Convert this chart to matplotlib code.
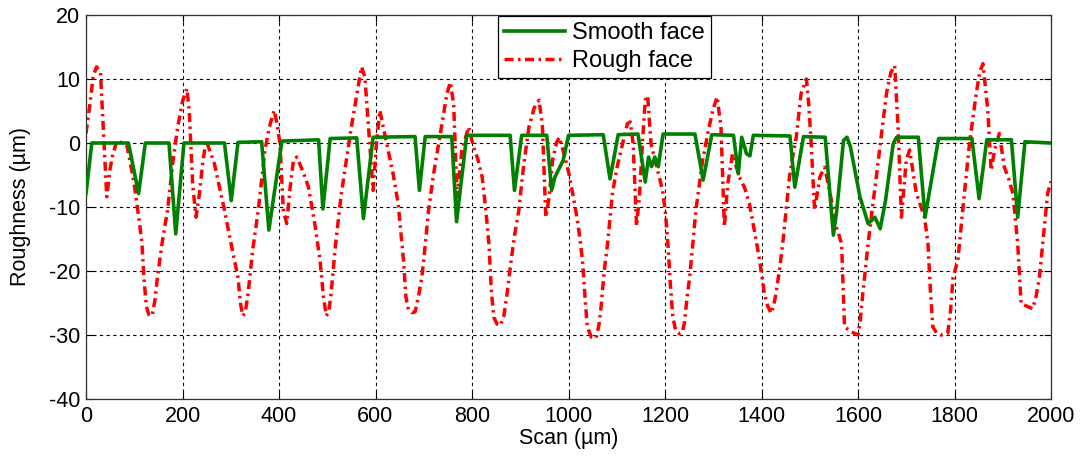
import matplotlib
matplotlib.use('Agg')
import matplotlib.pyplot as plt

plt.rcParams['font.family'] = ['Liberation Sans', 'DejaVu Sans']
plt.rcParams['axes.unicode_minus'] = False

# rough face profile: (scan um, roughness um)
rough_profile = [
    (0, 1.5), (8, 6), (15, 10.5), (22, 11.9), (30, 11), (36, 2), (43, -8.4), (50, -4), (55, -2),
    (64, 0.4), (85, -0.4), (99, -6), (110, -12), (116, -15.7), (120, -21), (125, -25.5),
    (130, -26.8), (137, -27), (143, -24.5), (148, -21), (158, -15.5), (169, -10.5), (180, -3),
    (190, 2.5), (200, 6.5), (209, 8.5), (214, 5), (221, -6.4), (228, -11.6), (235, -8), (242, -3),
    (249, 0.4), (266, -3.2), (287, -10.5), (300, -15.5), (315, -21), (320, -25), (325, -27),
    (330, -26.5), (336, -23.5), (345, -17), (357, -10.5), (371, -1.1), (380, 2.5), (390, 5.1),
    (396, 3), (402, -0.1), (409, -10.5), (416, -12.6), (423, -7), (430, -2.7), (437, -2.2),
    (450, -4.5), (461, -6.9), (475, -13), (485, -18.3), (492, -24), (498, -27), (503, -26.5),
    (508, -23.5), (517, -16), (529, -8), (540, -2.5), (550, 2.5), (560, 7), (571, 11.9),
    (578, 10.3), (588, -0.1), (595, -7.4), (602, 0), (609, 5.1), (616, 2.5), (626, -1.1),
    (637, -5), (647, -9.5), (658, -18.3), (663, -24), (668, -26), (675, -26.5), (682, -26.4),
    (689, -24), (696, -21), (703, -16), (710, -10.5), (720, -5), (731, -0.1), (740, 4), (748, 7.7),
    (755, 9.5), (762, 6.1), (769, -8.4), (779, -1.1), (793, 2.5), (803, -0.6), (812, -2.5),
    (821, -5.3), (828, -10), (835, -15.7), (840, -23), (845, -27.2), (852, -28.3), (859, -28.5),
    (866, -27), (872, -24), (880, -19), (888, -14.5), (897, -10.5), (907, -3.5), (918, 2.5),
    (929, 5.5), (939, 6.7), (946, 2.5), (953, -11.6), (960, -8.4), (967, -2.7), (975, 0),
    (981, 0.9), (990, -1.5), (1001, -4.8), (1015, -10.5), (1022, -14), (1029, -18.3), (1035, -25),
    (1039, -28.7), (1047, -30.3), (1057, -30.5), (1063, -28.5), (1067, -26), (1074, -20),
    (1081, -15.7), (1091, -7.9), (1100, -4), (1109, -1.1), (1122, 3), (1128, 3.3), (1134, -0.1),
    (1141, -13), (1147, -8.4), (1154, 0.9), (1159, 6.7), (1164, 7.4), (1171, -0.1), (1181, -3.2),
    (1195, -7.4), (1201, -11), (1206, -15.7), (1211, -22), (1216, -27), (1222, -29.3),
    (1230, -29.8), (1236, -29.5), (1240, -28.2), (1246, -24), (1251, -21), (1258, -15.5),
    (1264, -10.5), (1278, -2.7), (1290, 2), (1299, 5.1), (1308, 7.2), (1316, 2.5), (1323, -13.1),
    (1330, -6.4), (1340, -1.7), (1354, -5.3), (1365, -7), (1375, -9.5), (1386, -14), (1396, -18.3),
    (1406, -23.5), (1413, -25.5), (1420, -26.6), (1425, -25.5), (1430, -23.5), (1437, -20),
    (1444, -15.7), (1451, -10.5), (1458, -5.3), (1465, -2), (1472, 0.9), (1482, 7.7), (1493, 10),
    (1498, 6), (1503, -0.1), (1510, -10.5), (1521, -5.3), (1531, -3.8), (1541, -7.4),
    (1555, -13.1), (1566, -15.7), (1569, -22), (1572, -28.7), (1586, -29.5), (1600, -30),
    (1605, -27.5), (1610, -23.5), (1621, -15.7), (1630, -10), (1638, -5.3), (1648, 1), (1659, 7.7),
    (1668, 11), (1676, 12.1), (1683, 2.5), (1690, -11.6), (1700, -2.7), (1707, -1.1), (1721, -7.9),
    (1738, -11.6), (1745, -15.7), (1750, -23), (1755, -28.7), (1763, -29.7), (1772, -30),
    (1786, -29.7), (1792, -26), (1797, -21), (1807, -18.3), (1817, -10.5), (1831, -0.1),
    (1845, 7.7), (1852, 11), (1859, 12.4), (1869, 5.1), (1876, -4.3), (1883, -1.1), (1893, 1.5),
    (1903, -3.7), (1912, -5.5), (1921, -7.9), (1931, -15.7), (1938, -25.1), (1950, -25.5),
    (1962, -25.9), (1969, -24), (1976, -21), (1985, -14), (1993, -7.9), (2000, -6),
]

# smooth face profile
smooth_profile = [
    (0, -7.9), (12, 0), (88, 0), (109, -7.9), (123, 0), (172, 0), (186, -14.2), (203, 0), (287, 0),
    (301, -9), (315, 0.1), (364, 0.2), (379, -13.6), (406, 0.3), (482, 0.5), (491, -10.3),
    (506, 0.7), (561, 0.8), (575, -11.8), (595, 0.9), (682, 1), (691, -7.4), (703, 1), (758, 1),
    (768, -12.3), (789, 1.2), (879, 1.2), (888, -7.4), (903, 1.2), (955, 1.2), (965, -7.4),
    (972, -5.3), (989, -2.7), (1000, 1.2), (1072, 1.3), (1086, -5.6), (1103, 1.3), (1144, 1.4),
    (1159, -6.1), (1166, -2.2), (1172, -3.7), (1179, -2.2), (1186, -3.7), (1196, 1.4), (1262, 1.4),
    (1279, -5.8), (1297, 1.3), (1342, 1.2), (1352, -4.8), (1359, 0.9), (1369, -1.7), (1376, -2),
    (1383, 1.2), (1459, 1.1), (1469, -6.9), (1487, 1), (1532, 0.9), (1549, -14.4), (1556, -10.5),
    (1570, 0.4), (1577, 0.9), (1584, -0.5), (1604, -8.4), (1621, -12.6), (1635, -11.6),
    (1646, -13.4), (1657, -9), (1673, -0.1), (1680, 0.9), (1725, 0.9), (1739, -11.6), (1767, 0.7),
    (1836, 0.7), (1851, -8.7), (1867, 0.5), (1918, 0.5), (1931, -11.6), (1946, 0.2), (2000, 0),
]

xticks = list(range(0, 2001, 200))
yticks = list(range(-40, 21, 10))

rough_x = [p[0] for p in rough_profile]
rough_y = [p[1] for p in rough_profile]
smooth_x = [p[0] for p in smooth_profile]
smooth_y = [p[1] for p in smooth_profile]

fig = plt.figure(figsize=(10.85, 4.66), dpi=100)
ax = fig.add_axes([86 / 1085, 1 - 399 / 466, 965 / 1085, 384 / 466])

ax.plot(smooth_x, smooth_y, color='#008000', lw=2.6, label='Smooth face', zorder=3)
ax.plot(rough_x, rough_y, color='#ff0000', lw=2.5, dashes=(2.6, 1.3, 0.7, 1.3),
        label='Rough face', zorder=2)

ax.set_xlim(0, 2000)
ax.set_ylim(-40, 20)
ax.set_xticks(xticks)
ax.set_yticks(yticks)
ax.grid(True, color='black', linestyle=(0, (3, 3)), lw=0.8)
ax.tick_params(direction='in', top=True, right=True, labelsize=15.5, length=5)
ax.tick_params(axis='x', pad=5)
ax.tick_params(axis='y', pad=4)
for s in ax.spines.values():
    s.set_linewidth(0.9)
    s.set_color('#333333')

ax.set_xlabel('Scan (\u00b5m)', fontsize=15.5, labelpad=1)
ax.set_ylabel('Roughness (\u00b5m)', fontsize=15.5, labelpad=13)

leg = ax.legend(loc='upper left', bbox_to_anchor=(0.427, 0.997), fontsize=17,
                fancybox=False, framealpha=1, edgecolor='black', handlelength=2.6,
                borderpad=0.25, labelspacing=0.25, handletextpad=0.3, borderaxespad=0)
leg.get_frame().set_linewidth(0.9)

fig.savefig('out.png', dpi=100)
